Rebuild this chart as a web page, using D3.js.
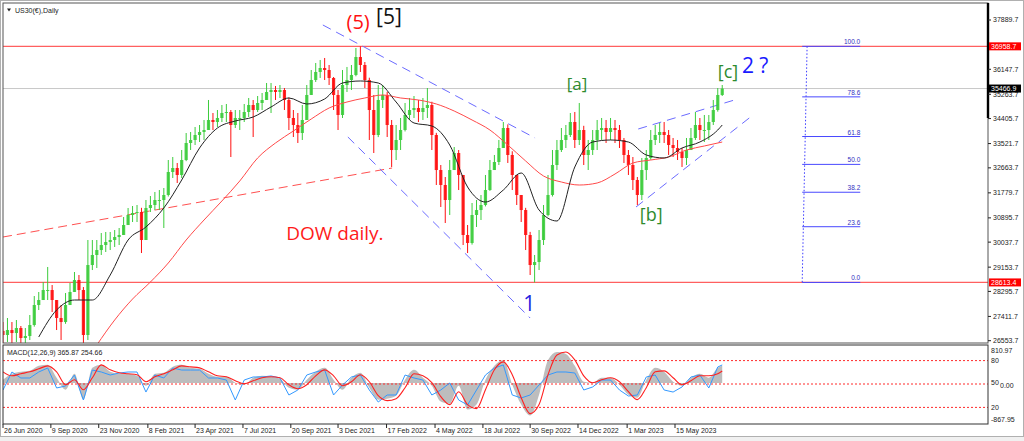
<!DOCTYPE html>
<html><head><meta charset="utf-8">
<script src="https://cdn.jsdelivr.net/npm/d3@7"></script>
<style>
html,body{margin:0;padding:0;background:#fff;overflow:hidden;}
svg{display:block;font-family:"Liberation Sans",Arial,sans-serif;}
</style></head><body>
<svg id="c" width="1024" height="441"></svg>
<script>
// ---------- DATA (weekly candles) ----------
const startDate = Date.UTC(2020, 5, 26);
const firstOpen = 26900;
const closes = [26755,26931,26825,27002,26649,26719,27108,27815,27992,28345,
 28345,27992,27356,27214,27815,28275,28699,28345,26755,29229,
 29583,29759,29936,30042,30113,30219,30290,30643,30997,31067,
 31103,30113,31244,31350,31527,31527,31704,32517,32658,32411,
 32941,33542,33648,33825,33931,34001,34355,34284,34426,34602,
 34638,34178,34426,34426,34638,34885,34708,34956,35062,35345,
 35415,35345,35415,35062,34426,34178,33895,34355,35239,35769,
 36052,36193,36122,35840,35239,34532,35592,35769,35946,36582,
 36299,35769,34708,33825,35062,35239,34178,33294,33648,34001,
 34532,34708,34779,34638,34779,34885,33825,32587,32057,31527,
 32587,33188,32411,30290,30007,30997,31173,31350,31880,32587,
 32870,33365,34072,33118,32411,31704,31173,30290,29229,29335,
 30113,30997,31704,32764,33294,33648,33825,34284,33648,34001,
 33118,33294,33648,34001,34072,33931,34072,34001,33648,33118,
 32764,32234,31704,32587,33012,33648,33825,33931,33825,33471,
 33365,33224,33012,33294,33719,34178,34001,34001,34284,34708,
 35239,35466.9];
const highs = [27214,27356,27214,27285,27073,27002,27462,28133,28275,28628,
 29159,28522,27992,27815,28239,28593,28982,28876,28450,30113,
 30113,30113,30360,30396,30396,30466,30537,30926,31244,31315,
 31350,31250,31527,31668,31810,31880,31951,32941,33047,32835,
 33294,33895,33931,34108,34178,34355,35062,34602,34708,34885,
 34921,34708,34708,34708,34921,35133,35062,35203,35309,35663,
 35663,35557,35592,35486,35150,34708,34602,34885,35592,36122,
 36370,36476,36547,36299,35875,35415,36122,36229,36299,36900,
 36958.7,36405,35850,35239,35592,35592,35350,34355,34178,34426,
 34956,35133,35203,35062,35133,35486,35000,33900,32764,32340,
 32941,33401,33294,32411,30643,31421,31527,31704,32411,32941,
 33118,33648,34284,34200,33250,32411,31704,31250,30400,29583,
 30466,31350,32411,33294,33648,34072,34178,34602,34638,34956,
 34150,33648,34001,34355,34426,34355,34426,34355,34178,33719,
 33294,33047,32340,33012,33294,34001,34178,34249,34284,34001,
 33719,33648,33365,33719,34072,34638,34426,34532,34532,35062,
 35486,35592];
const lows = [26401,26507,26401,26507,26366,26366,26578,27050,27638,27992,
 27992,27568,26931,26578,27150,27815,28275,27992,26401,26578,
 29052,29123,29583,29689,29759,29866,29936,30290,30643,30749,
 30749,29653,30113,31103,31173,31173,30537,31650,32305,32128,
 32305,32900,33294,33471,33577,33648,34001,34001,34108,34284,
 34284,33047,34072,34001,34284,34461,33754,34638,34708,35062,
 34602,35062,35133,34708,34001,33754,33542,33648,34355,35239,
 35698,35840,35769,35592,34708,34001,34426,35345,35415,35900,
 36052,35486,33648,33188,33750,34779,33754,32694,32941,33294,
 33950,34355,34426,34284,34355,34426,33294,32057,31280,30714,
 30997,32587,31880,29936,29653,29950,30573,30820,31300,31850,
 32587,32764,33365,32835,31880,31350,30749,29759,28876,28613.4,
 29052,29936,30950,31650,32587,33224,33365,33754,33365,33471,
 32764,32587,33118,33294,33648,33542,33648,33542,33365,32835,
 32411,31880,31350,31527,32234,32950,33471,33542,33542,33118,
 33047,32941,32694,32764,33294,33650,33648,33577,33648,34178,
 34650,35203];

// moving averages (week index, value)
const maBlackWeeks = [8,12,16,20,24,28,32,36,40,44,48,52,56,60,64,68,72,76,80,84,88,92,96,100,104,108,112,116,120,124,128,132,136,140,144,148,152,156,160,161];
const maBlack = [26684,27638,27992,27992,28876,30113,30573,31244,32234,33365,34072,34320,34461,34815,35133,34921,35098,35663,35734,35663,34991,34249,34143,33471,31987,31456,31880,32482,31173,30785,32694,33577,33648,33577,33118,33012,33365,33577,34001,34178];
const maRedWeeks = [21,25,29,33,37,41,45,49,53,57,61,65,69,73,77,81,85,89,93,97,101,105,109,113,117,121,125,129,133,137,141,145,149,153,157,161];
const maRed = [26401,27285,28027,28628,29300,30113,30820,31492,32199,33012,33542,33966,34390,34779,34991,35133,35239,35133,35062,34921,34673,34355,34001,33471,32906,32375,32163,32057,32128,32446,32835,32941,33047,33294,33436,33577];

// MACD panel (every 2nd week + last week)
const macdWeeks = [0,2,4,6,8,10,12,14,16,18,20,22,24,26,28,30,32,34,36,38,40,42,44,46,48,50,52,54,56,58,60,62,64,66,68,70,72,74,76,78,80,82,84,86,88,90,92,94,96,98,100,102,104,106,108,110,112,114,116,118,120,122,124,126,128,130,132,134,136,138,140,142,144,146,148,150,152,154,156,158,160,161];
const macdMain = [67,195,237,258,365,386,110,-145,195,-358,322,386,237,195,195,152,-60,195,216,344,386,322,301,195,131,131,4,-39,110,152,131,88,-103,-145,67,237,322,67,-145,110,216,-103,-358,-337,-273,67,280,110,-60,-400,-443,-60,-570,-464,67,365,492,-39,-464,-698,-252,492,662,620,365,25,4,110,110,-39,-252,-315,67,322,237,25,-60,110,195,110,322,365.87];
const macdSignal = [237,152,195,237,301,365,237,-39,67,-145,110,386,280,216,195,174,25,131,195,280,365,344,322,237,152,131,46,-18,46,110,131,110,-39,-124,-39,152,280,152,-60,25,174,25,-273,-379,-337,-103,195,152,4,-294,-464,-188,-464,-549,-145,280,450,174,-315,-656,-464,174,598,662,492,152,4,67,110,25,-188,-358,-103,237,258,110,-39,46,152,152,195,254.66];
const oscBlue = [42.3,65.4,57.7,57.7,65.4,70.5,44.9,47.4,61.5,29.5,67.9,65.4,61.5,64.1,65.4,65.4,39.7,61.5,57.7,70.5,67.9,67.9,67.9,57.7,57.7,55.1,29.5,55.1,59.0,59.0,60.3,57.7,35.9,42.3,61.5,65.4,67.9,35.9,48.7,59.0,61.5,42.3,26.9,35.9,35.9,61.5,57.7,55.1,35.9,42.3,51.3,29.5,23.1,42.3,61.5,70.5,74.4,35.9,32.1,35.9,48.7,61.5,65.4,65.4,64.1,42.3,46.2,55.1,55.1,42.3,34.6,35.9,59.0,61.5,42.3,39.7,46.2,59.0,61.5,44.9,71.8,74.4];
const oscLevels = [80, 50, 20];

// levels / axis labels
const highLine = 36958.7, lowLine = 28613.4, lastPrice = 35466.9;
const priceTicks = [37889.7,36147.7,35263.7,34405.7,33521.7,32663.7,31779.7,30895.7,30037.7,29153.7,28295.7,27411.7,26553.7];
const dateTicks = [["2020-06-26","26 Jun 2020"],["2020-09-09","9 Sep 2020"],["2020-11-23","23 Nov 2020"],["2021-02-08","8 Feb 2021"],["2021-04-23","23 Apr 2021"],["2021-07-07","7 Jul 2021"],["2021-09-20","20 Sep 2021"],["2021-12-03","3 Dec 2021"],["2022-02-17","17 Feb 2022"],["2022-05-04","4 May 2022"],["2022-07-18","18 Jul 2022"],["2022-09-30","30 Sep 2022"],["2022-12-14","14 Dec 2022"],["2023-03-01","1 Mar 2023"],["2023-05-15","15 May 2023"]];
const fibLevels = [0, 23.6, 38.2, 50.0, 61.8, 78.6, 100.0];
const fibWeeks = [178.9, 180, 191.9]; // vertical bottom, vertical top, right end
const macdLabels = ["810.97","80","0.00","50","20","-867.95"];
const macdTitle = "MACD(12,26,9) 365.87 254.66";

// trend lines [week, price] pairs
const trendRed = [[0,30219],[87.1,32658]];
const trendBlue = [
  [[71.6,37713],[119.1,33719]],
  [[77.2,33754],[118.0,27356]],
  [[142.2,34037],[164.5,35098]],
  [[141.7,31280],[167.9,34532]]
];
// wave labels [text, week, price, color, size, anchor]
const waveLabels = [
  ["(5)",79.5,37572,"#ff1010",20,"middle"],
  ["[5]",86.4,37749,"#111111",21,"middle"],
  ["DOW daily.",63.4,30113,"#ff1a1a",19,"start"],
  ["[a]",128.5,35415,"#2e8b2e",17,"middle"],
  ["[b]",145.1,30785,"#2e8b2e",18,"middle"],
  ["[c]",162.3,35840,"#2e8b2e",18,"middle"],
  ["2 ?",165.4,36016,"#1a1aff",21,"start"],
  ["1",117.8,27603,"#2424e0",21,"middle"]
];

// ---------- DRAW ----------
const svg = d3.select("#c");
const L = 3, R = 988, T = 3, B = 343, MT = 345, MB = 424;
const wd = i => new Date(startDate + i * 7 * 864e5);
const x = d3.scaleUtc().domain([new Date(startDate), new Date(Date.UTC(2023,4,15))]).range([3, 675]);
const y = d3.scaleLinear().domain([26553.7, 37889.7]).range([340.7, 20]);
const yM = d3.scaleLinear().domain([-867.95, 810.97]).range([423.5, 345]);
const yO = d3.scaleLinear().domain([0, 100]).range([423, 345]);
const xi = i => x(wd(i));

svg.append("rect").attr("width",1024).attr("height",441).attr("fill","#fff");
svg.append("rect").attr("x",0).attr("y",437).attr("width",1024).attr("height",4).attr("fill","#f0f0f0");
svg.append("rect").attr("x",0.5).attr("y",0.5).attr("width",1023).attr("height",436).attr("fill","none").attr("stroke","#b0b0b0");

const defs = svg.append("defs");
defs.append("clipPath").attr("id","mc").append("rect").attr("x",L).attr("y",T).attr("width",R-L).attr("height",B-T);
defs.append("clipPath").attr("id","dc").append("rect").attr("x",L).attr("y",MT).attr("width",R-L).attr("height",MB-MT);

const g = svg.append("g").attr("clip-path","url(#mc)");

// horizontal lines
g.append("line").attr("x1",L).attr("x2",R).attr("y1",y(lastPrice)).attr("y2",y(lastPrice)).attr("stroke","#c8c8c8");
[highLine, lowLine].forEach(v => g.append("line").attr("x1",L).attr("x2",R).attr("y1",y(v)).attr("y2",y(v)).attr("stroke","#ff6060").attr("stroke-width",1.2));

// trend lines
const tl = d3.line().x(d => xi(d[0])).y(d => y(d[1]));
g.append("path").attr("d", tl(trendRed)).attr("stroke","#ff5050").attr("stroke-dasharray","9,5").attr("fill","none");
trendBlue.forEach(t => g.append("path").attr("d", tl(t)).attr("stroke","#6b6bff").attr("stroke-dasharray","9,6").attr("fill","none"));

// candles
const candles = closes.map((c, i) => ({i, o: i ? closes[i-1] : firstOpen, c, h: highs[i], l: lows[i]}));
const cg = g.append("g");
candles.forEach(d => {
  const up = d.c >= d.o, col = up ? "#3ccc3c" : "#ff1010";
  const cx = xi(d.i);
  cg.append("line").attr("x1",cx).attr("x2",cx).attr("y1",y(d.h)).attr("y2",y(d.l)).attr("stroke",col).attr("stroke-width",1);
  const y0 = y(Math.max(d.o,d.c)), y1 = y(Math.min(d.o,d.c));
  cg.append("rect").attr("x",cx-1.6).attr("width",3.2).attr("y",y0).attr("height",Math.max(1,y1-y0)).attr("fill",col).attr("opacity",0.9);
});

// moving averages
const ml = d3.line().x(d => xi(d[0])).y(d => y(d[1])).curve(d3.curveMonotoneX);
g.append("path").attr("d", ml(maRedWeeks.map((w,k)=>[w,maRed[k]]))).attr("stroke","#ff4a4a").attr("fill","none").attr("stroke-width",1);
g.append("path").attr("d", ml(maBlackWeeks.map((w,k)=>[w,maBlack[k]]))).attr("stroke","#222").attr("fill","none").attr("stroke-width",1);

// fib
const fg = g.append("g");
fg.append("line").attr("x1",xi(fibWeeks[1])).attr("y1",y(highLine)).attr("x2",xi(fibWeeks[0])).attr("y2",y(lowLine))
  .attr("stroke","#3a3aff").attr("stroke-dasharray","1.5,2");
fibLevels.forEach(p => {
  const v = lowLine + (highLine - lowLine) * p / 100;
  fg.append("line").attr("x1",xi(fibWeeks[0])).attr("x2",xi(fibWeeks[2])).attr("y1",y(v)).attr("y2",y(v)).attr("stroke","#4848ff").attr("stroke-width",1);
  fg.append("text").attr("x",xi(fibWeeks[2])).attr("y",y(v)-2).attr("text-anchor","end")
    .attr("font-size",6.5).attr("fill","#3030c0").text(p.toFixed(1));
});

// wave labels
waveLabels.forEach(([t,w,p,c,s,a]) => svg.append("text").attr("x",xi(w)).attr("y",y(p)).attr("text-anchor",a)
  .attr("font-family","'Open Sans','DejaVu Sans',sans-serif").attr("font-size",s).attr("fill",c).text(t));

// title
svg.append("path").attr("d","M7,8.5 L11,8.5 L9,11.5 Z").attr("fill","#222");
svg.append("text").attr("x",15).attr("y",12.5).attr("font-size",7).attr("fill","#222").text("US30(€),Daily");

// panel borders
svg.append("rect").attr("x",L).attr("y",T).attr("width",R-L).attr("height",B-T).attr("fill","none").attr("stroke","#555");
svg.append("line").attr("x1",R).attr("x2",R).attr("y1",T).attr("y2",118).attr("stroke","#000").attr("stroke-width",2.4);

// price axis
const ax = svg.append("g").attr("font-size",7).attr("fill","#222");
priceTicks.forEach(v => {
  ax.append("line").attr("x1",R).attr("x2",R+3).attr("y1",y(v)).attr("y2",y(v)).attr("stroke","#222");
  ax.append("text").attr("x",R+5).attr("y",y(v)).attr("dy","0.35em").text(v.toFixed(1));
});
[[highLine,"#ff0000"],[lowLine,"#ff0000"],[lastPrice,"#000"]].forEach(([v,col]) => {
  ax.append("rect").attr("x",R+1).attr("y",y(v)-4).attr("width",32).attr("height",8).attr("fill",col);
  ax.append("text").attr("x",R+3).attr("y",y(v)).attr("dy","0.35em").attr("fill","#fff").text(v.toFixed(1));
});

// MACD panel
const dg = svg.append("g").attr("clip-path","url(#dc)");
const mx = k => xi(macdWeeks[k]);
dg.append("path").attr("d", d3.area().x((d,k)=>mx(k)).y0(yM(0)).y1(d=>yM(d)).curve(d3.curveMonotoneX)(macdMain))
  .attr("fill","#bdbdbd");
oscLevels.forEach(v => dg.append("line").attr("x1",L).attr("x2",R).attr("y1",yO(v)).attr("y2",yO(v))
  .attr("stroke","#ff2a2a").attr("stroke-dasharray","2,2"));
dg.append("path").attr("d", d3.line().x((d,k)=>mx(k)).y(d=>yO(d))(oscBlue)).attr("stroke","#3399ff").attr("fill","none");
dg.append("path").attr("d", d3.line().x((d,k)=>mx(k)).y(d=>yM(d)).curve(d3.curveMonotoneX)(macdSignal)).attr("stroke","#ff2020").attr("fill","none").attr("stroke-width",1.1);
svg.append("rect").attr("x",L).attr("y",MT).attr("width",R-L).attr("height",MB-MT).attr("fill","none").attr("stroke","#333");
svg.append("text").attr("x",7).attr("y",355).attr("font-size",7).attr("fill","#222").text(macdTitle);

const mlab = svg.append("g").attr("font-size",7).attr("fill","#222");
const mPos = [[yM(810.97)+6,R+3], [yO(80),R+3], [yM(0)+3,R+12], [yO(50)-1,R+3], [yO(20),R+3], [yM(-867.95)-4,R+3]];
macdLabels.forEach((t,k) => mlab.append("text").attr("x", mPos[k][1]).attr("y", mPos[k][0]).attr("dy","0.35em").text(t));

// date axis
const da = svg.append("g").attr("font-size",7).attr("fill","#222");
dateTicks.forEach(([d,t]) => {
  const px = x(new Date(d + "T00:00:00Z"));
  da.append("line").attr("x1",px).attr("x2",px).attr("y1",MB).attr("y2",MB+4).attr("stroke","#222");
  da.append("text").attr("x",px+1).attr("y",433).text(t);
});
</script>
</body></html>
